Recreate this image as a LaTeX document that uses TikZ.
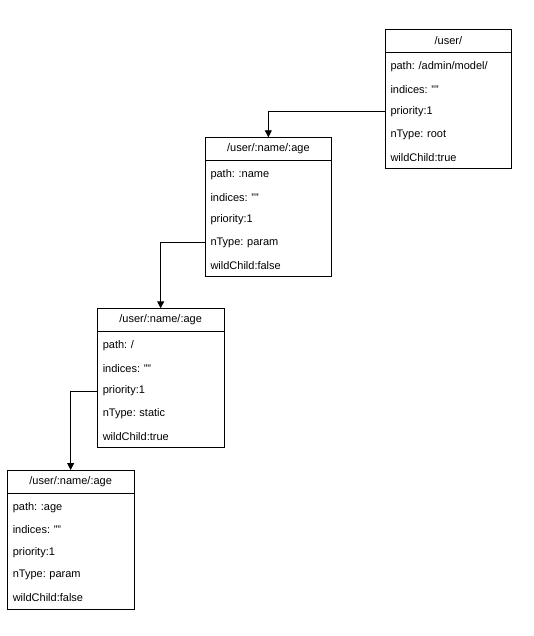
\documentclass[tikz,border=0pt]{standalone}
\usepackage{fontspec}
\setmainfont{Liberation Sans}
\usetikzlibrary{positioning,fit,arrows.meta}

\tikzset{
  hdr/.style={draw,anchor=north west,minimum width=126.7pt,minimum height=23.4pt,inner sep=0pt,outer sep=0pt,font=\fontsize{11}{13}\selectfont},
  row/.style={anchor=north,text width=115.7pt,inner xsep=5.5pt,inner ysep=0pt,outer sep=0pt,minimum height=22.7pt,align=left,font=\fontsize{11}{13}\selectfont},
  frame/.style={draw,inner sep=0pt,outer sep=0pt},
  link/.style={-{Triangle[length=7pt,width=7pt]}}
}

\begin{document}
\frenchspacing
\begin{tikzpicture}[x=1pt,y=-1pt,line width=0.9pt]
          \useasboundingbox (0,0) rectangle (534,636);
          % root node
          \node [hdr] (h1) at (385,29.3) {/user/};
          \node [row,below=2.5pt of h1] (b1r1) {path: /admin/model/};
          \node [row,below=0pt of b1r1] (b1r2) {indices: ""};
          \node [row,below=0pt of b1r2] (b1r3) {priority:1};
          \node [row,below=0pt of b1r3] (b1r4) {nType: root};
          \node [row,below=0pt of b1r4] (b1r5) {wildChild:true};
          \node [frame,fit=(h1)(b1r5)] (b1) {};
          % :name
          \node [hdr] (h2) at (205,137.3) {/user/:name/:age};
          \node [row,below=2.5pt of h2] (b2r1) {path: :name};
          \node [row,below=0pt of b2r1] (b2r2) {indices: ""};
          \node [row,below=0pt of b2r2] (b2r3) {priority:1};
          \node [row,below=0pt of b2r3] (b2r4) {nType: param};
          \node [row,below=0pt of b2r4] (b2r5) {wildChild:false};
          \node [frame,fit=(h2)(b2r5)] (b2) {};
          % static /
          \node [hdr] (h3) at (97.3,308.3) {/user/:name/:age};
          \node [row,below=2.5pt of h3] (b3r1) {path: /};
          \node [row,below=0pt of b3r1] (b3r2) {indices: ""};
          \node [row,below=0pt of b3r2] (b3r3) {priority:1};
          \node [row,below=0pt of b3r3] (b3r4) {nType: static};
          \node [row,below=0pt of b3r4] (b3r5) {wildChild:true};
          \node [frame,fit=(h3)(b3r5)] (b3) {};
          % :age
          \node [hdr] (h4) at (7.3,470) {/user/:name/:age};
          \node [row,below=2.5pt of h4] (b4r1) {path: :age};
          \node [row,below=0pt of b4r1] (b4r2) {indices: ""};
          \node [row,below=0pt of b4r2] (b4r3) {priority:1};
          \node [row,below=0pt of b4r3] (b4r4) {nType: param};
          \node [row,below=0pt of b4r4] (b4r5) {wildChild:false};
          \node [frame,fit=(h4)(b4r5)] (b4) {};
          % links
          \draw [link] (b1r3.west) -| (h2.north);
          \draw [link] (b2r4.west) -| (h3.north);
          \draw [link] (b3r3.west) -| (h4.north);
      \end{tikzpicture}
\end{document}
